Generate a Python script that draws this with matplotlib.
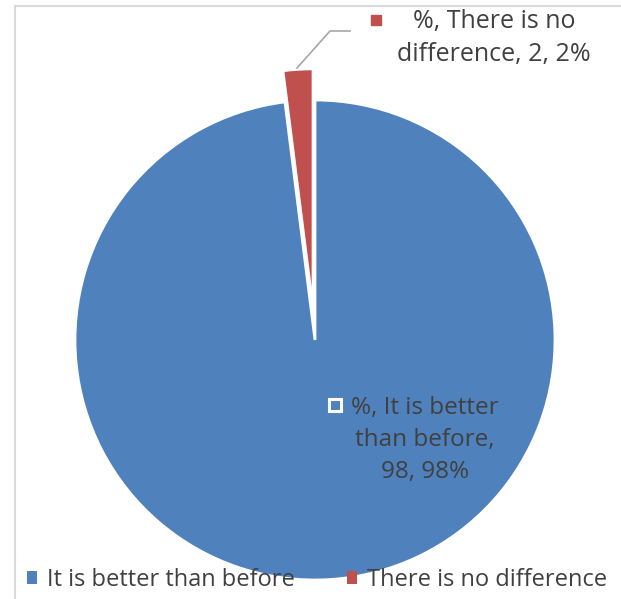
import matplotlib.pyplot as plt
from matplotlib.patches import Rectangle

# survey answers
labels = ["It is better than before", "There is no difference"]
values = [98, 2]
colors = ["#4f81bd", "#c0504d"]
explode = [0, 0.13]

W, H = 621, 599
R = 240          # pie radius in px
cx, cy = 315, 340  # pie centre in px (from top-left)

plt.rcParams['font.family'] = ['Open Sans', 'DejaVu Sans']
fig = plt.figure(figsize=(W / 100, H / 100), dpi=100)
ax = fig.add_axes([0, 0, 1, 1])

wedges, _ = ax.pie(values, colors=colors, explode=explode, startangle=90,
                   counterclock=False, radius=1,
                   wedgeprops=dict(edgecolor='white', linewidth=2))

# pie() resets the limits, so set them afterwards
ax.set_xlim(-cx / R, (W - cx) / R)
ax.set_ylim(-(H - cy) / R, cy / R)
ax.set_aspect('equal')
ax.axis('off')

# px -> data helper
def px(x, y):
    return (x - cx) / R, (cy - y) / R

tc = "#404040"
total = sum(values)

# label for the small slice, with leader line
ax.plot(*zip(px(297, 68), px(330, 31), px(350, 31)), color="#a6a6a6", lw=1.2)
ax.plot(*px(376, 20), marker='s', ms=7, color=colors[1], ls='')
ax.text(*px(494, 38), "%%, %s, %d, %d%%" % (
    labels[1].replace("There is no difference", "There is no\ndifference"),
    values[1], round(values[1] / total * 100)),
    ha='center', va='center', fontsize=18, color=tc, linespacing=1.45)

# label inside the big slice
ax.plot(*px(335, 405), marker='s', ms=9, mfc=colors[0], mec='white', mew=2.2, ls='')
ax.text(*px(425, 440), "%%, %s,\n%d, %d%%" % (
    labels[0].replace("It is better than before", "It is better\nthan before"),
    values[0], round(values[0] / total * 100)),
    ha='center', va='center', fontsize=17.5, color=tc, linespacing=1.45)

leg = fig.legend(wedges, labels, loc='center', bbox_to_anchor=(0.51, 1 - 580 / H),
                 ncol=2, frameon=False, fontsize=17, handlelength=0.45,
                 handleheight=0.45, handletextpad=0.4, columnspacing=2.2,
                 labelcolor=tc)
for h in leg.legend_handles:
    h.set_edgecolor('none')

# chart area border
fig.add_artist(Rectangle((15 / W, -0.1), 1.2, 1 - 6 / H + 0.1,
                         transform=fig.transFigure, fill=False,
                         edgecolor="#d9d9d9", lw=1.5))

fig.savefig("out.png", dpi=100)
